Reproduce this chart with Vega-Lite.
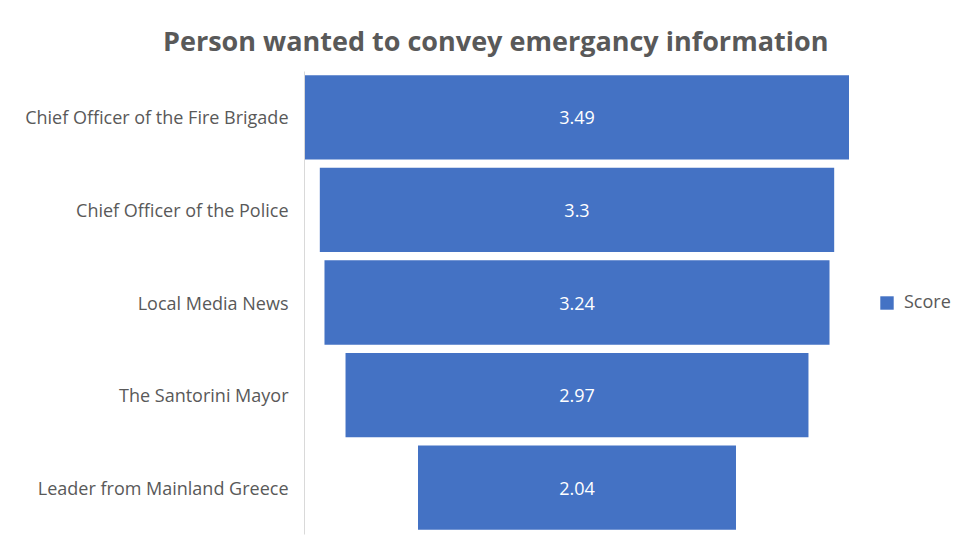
{
  "$schema": "https://vega.github.io/schema/vega-lite/v6.json",
  "width": 546,
  "height": 463,
  "autosize": "none",
  "padding": {"left": 304, "top": 71, "right": 119, "bottom": 15},
  "background": "white",
  "title": {
    "text": "Person wanted to convey emergancy information",
    "anchor": "start",
    "frame": "group",
    "dx": -141,
    "offset": 14,
    "font": "Open Sans",
    "fontSize": 27,
    "fontWeight": "bold",
    "color": "#595959"
  },
  "data": {
    "values": [
      {"Person": "Chief Officer of the Fire Brigade", "Score": 3.49},
      {"Person": "Chief Officer of the Police", "Score": 3.3},
      {"Person": "Local Media News", "Score": 3.24},
      {"Person": "The Santorini Mayor", "Score": 2.97},
      {"Person": "Leader from Mainland Greece", "Score": 2.04}
    ]
  },
  "config": {
    "view": {"stroke": null},
    "font": "Open Sans"
  },
  "encoding": {
    "y": {
      "field": "Person",
      "type": "nominal",
      "sort": null,
      "scale": {"paddingInner": 0.09, "paddingOuter": 0.045},
      "axis": {
        "title": null,
        "ticks": false,
        "labelPadding": 16,
        "labelOffset": 2,
        "labelFontSize": 18,
        "labelColor": "#595959",
        "labelFont": "Open Sans",
        "domainColor": "#d9d9d9",
        "labelLimit": 400
      }
    }
  },
  "layer": [
    {
      "mark": {"type": "bar", "color": "#4472C4"},
      "encoding": {
        "x": {
          "field": "Score",
          "type": "quantitative",
          "stack": "center",
          "scale": {"domain": [-0.0064, 3.4964], "nice": false, "zero": false},
          "axis": null
        },
        "color": {
          "datum": "Score",
          "scale": {"range": ["#4472C4"]},
          "legend": {
            "title": null,
            "orient": "none",
            "legendX": 574,
            "legendY": 223,
            "symbolType": "square",
            "symbolSize": 180,
            "symbolStrokeWidth": 0,
            "symbolOpacity": 1,
            "labelFontSize": 18,
            "labelColor": "#595959",
            "labelFont": "Open Sans",
            "labelOffset": 8
          }
        }
      }
    },
    {
      "mark": {"type": "text", "color": "white", "fontSize": 18, "font": "Open Sans", "dy": 2},
      "encoding": {
        "x": {"datum": 1.745, "type": "quantitative"},
        "text": {"field": "Score", "type": "quantitative"}
      }
    }
  ]
}
